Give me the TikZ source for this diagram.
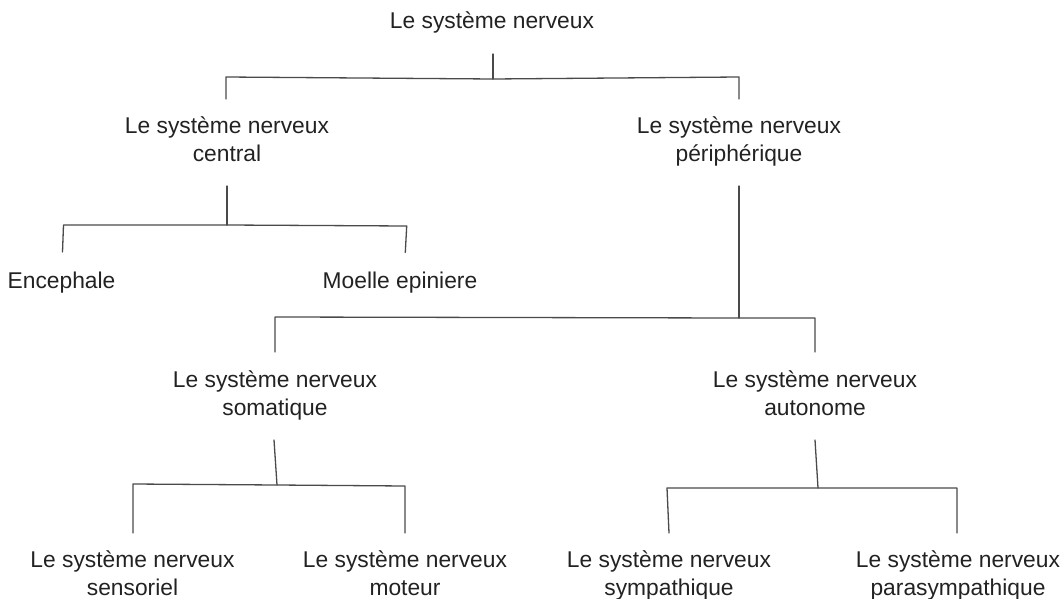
\documentclass[tikz,border=0pt]{standalone}
\usepackage{fontspec}
\setmainfont{Liberation Sans}
\definecolor{txt}{HTML}{222222}
\definecolor{ln}{HTML}{4A4A4A}
\begin{document}
\begin{tikzpicture}[x=1pt,y=-1pt,
  lbl/.style={anchor=north,align=center,inner sep=0pt,outer sep=0pt,text=txt,
    font=\fontsize{22.8}{28.5}\selectfont},
  conn/.style={draw=ln,line width=1.3pt,line cap=round,line join=round}]
\useasboundingbox (0,0) rectangle (1062,599);
% nodes (north anchor = top of first text line)
\node[lbl] (sn)   at (492,11.5)  {Le système nerveux};
\node[lbl] (snc)  at (227,116.5) {Le système nerveux\\central};
\node[lbl] (snp)  at (739,116.5) {Le système nerveux\\périphérique};
\node[lbl] (enc)  at (61.5,271.5) {Encephale};
\node[lbl] (moe)  at (400,271.5) {Moelle epiniere};
\node[lbl] (sns)  at (275,370.5) {Le système nerveux\\somatique};
\node[lbl] (sna)  at (815,370.5) {Le système nerveux\\autonome};
\node[lbl] (sen)  at (132.5,550.5) {Le système nerveux\\sensoriel};
\node[lbl] (mot)  at (405,550.5) {Le système nerveux\\moteur};
\node[lbl] (sym)  at (669,550.5) {Le système nerveux\\sympathique};
\node[lbl] (para) at (958,550.5) {Le système nerveux\\parasympathique};
% connector points
\coordinate (sn-o) at (493,54);
\coordinate (j1)   at (493,79);
\coordinate (j1l)  at (226,77);
\coordinate (j1r)  at (739,77);
\coordinate (snc-i) at (226,99);
\coordinate (snp-i) at (739,99);
\coordinate (snc-o) at (227,186);
\coordinate (j2)   at (227,225);
\coordinate (j2l)  at (63.5,225);
\coordinate (j2r)  at (406.7,226);
\coordinate (enc-i) at (62.5,252);
\coordinate (moe-i) at (405.3,252.5);
\coordinate (snp-o) at (739,186);
\coordinate (j3)   at (739,318);
\coordinate (j3l)  at (275,317);
\coordinate (j3r)  at (815,318);
\coordinate (sns-i) at (275,352);
\coordinate (sna-i) at (815,352);
\coordinate (sns-o) at (274,440);
\coordinate (j4)   at (277,485);
\coordinate (j4l)  at (133,484);
\coordinate (j4r)  at (405,486);
\coordinate (sen-i) at (133,533);
\coordinate (mot-i) at (405,533);
\coordinate (sna-o) at (815,440);
\coordinate (j5)   at (818,488);
\coordinate (j5l)  at (667,488);
\coordinate (j5r)  at (957,488);
\coordinate (sym-i) at (669,533);
\coordinate (para-i) at (957,533);
% connectors
\draw[conn] (sn-o) -- (j1);
\draw[conn] (snc-i) -- (j1l) -- (j1) -- (j1r) -- (snp-i);
\draw[conn] (snc-o) -- (j2);
\draw[conn] (enc-i) -- (j2l) -- (j2) -- (j2r) -- (moe-i);
\draw[conn] (snp-o) -- (j3);
\draw[conn] (sns-i) -- (j3l) -- (j3) -- (j3r) -- (sna-i);
\draw[conn] (sns-o) -- (j4);
\draw[conn] (sen-i) -- (j4l) -- (j4) -- (j4r) -- (mot-i);
\draw[conn] (sna-o) -- (j5);
\draw[conn] (sym-i) -- (j5l) -- (j5) -- (j5r) -- (para-i);
\end{tikzpicture}
\end{document}
